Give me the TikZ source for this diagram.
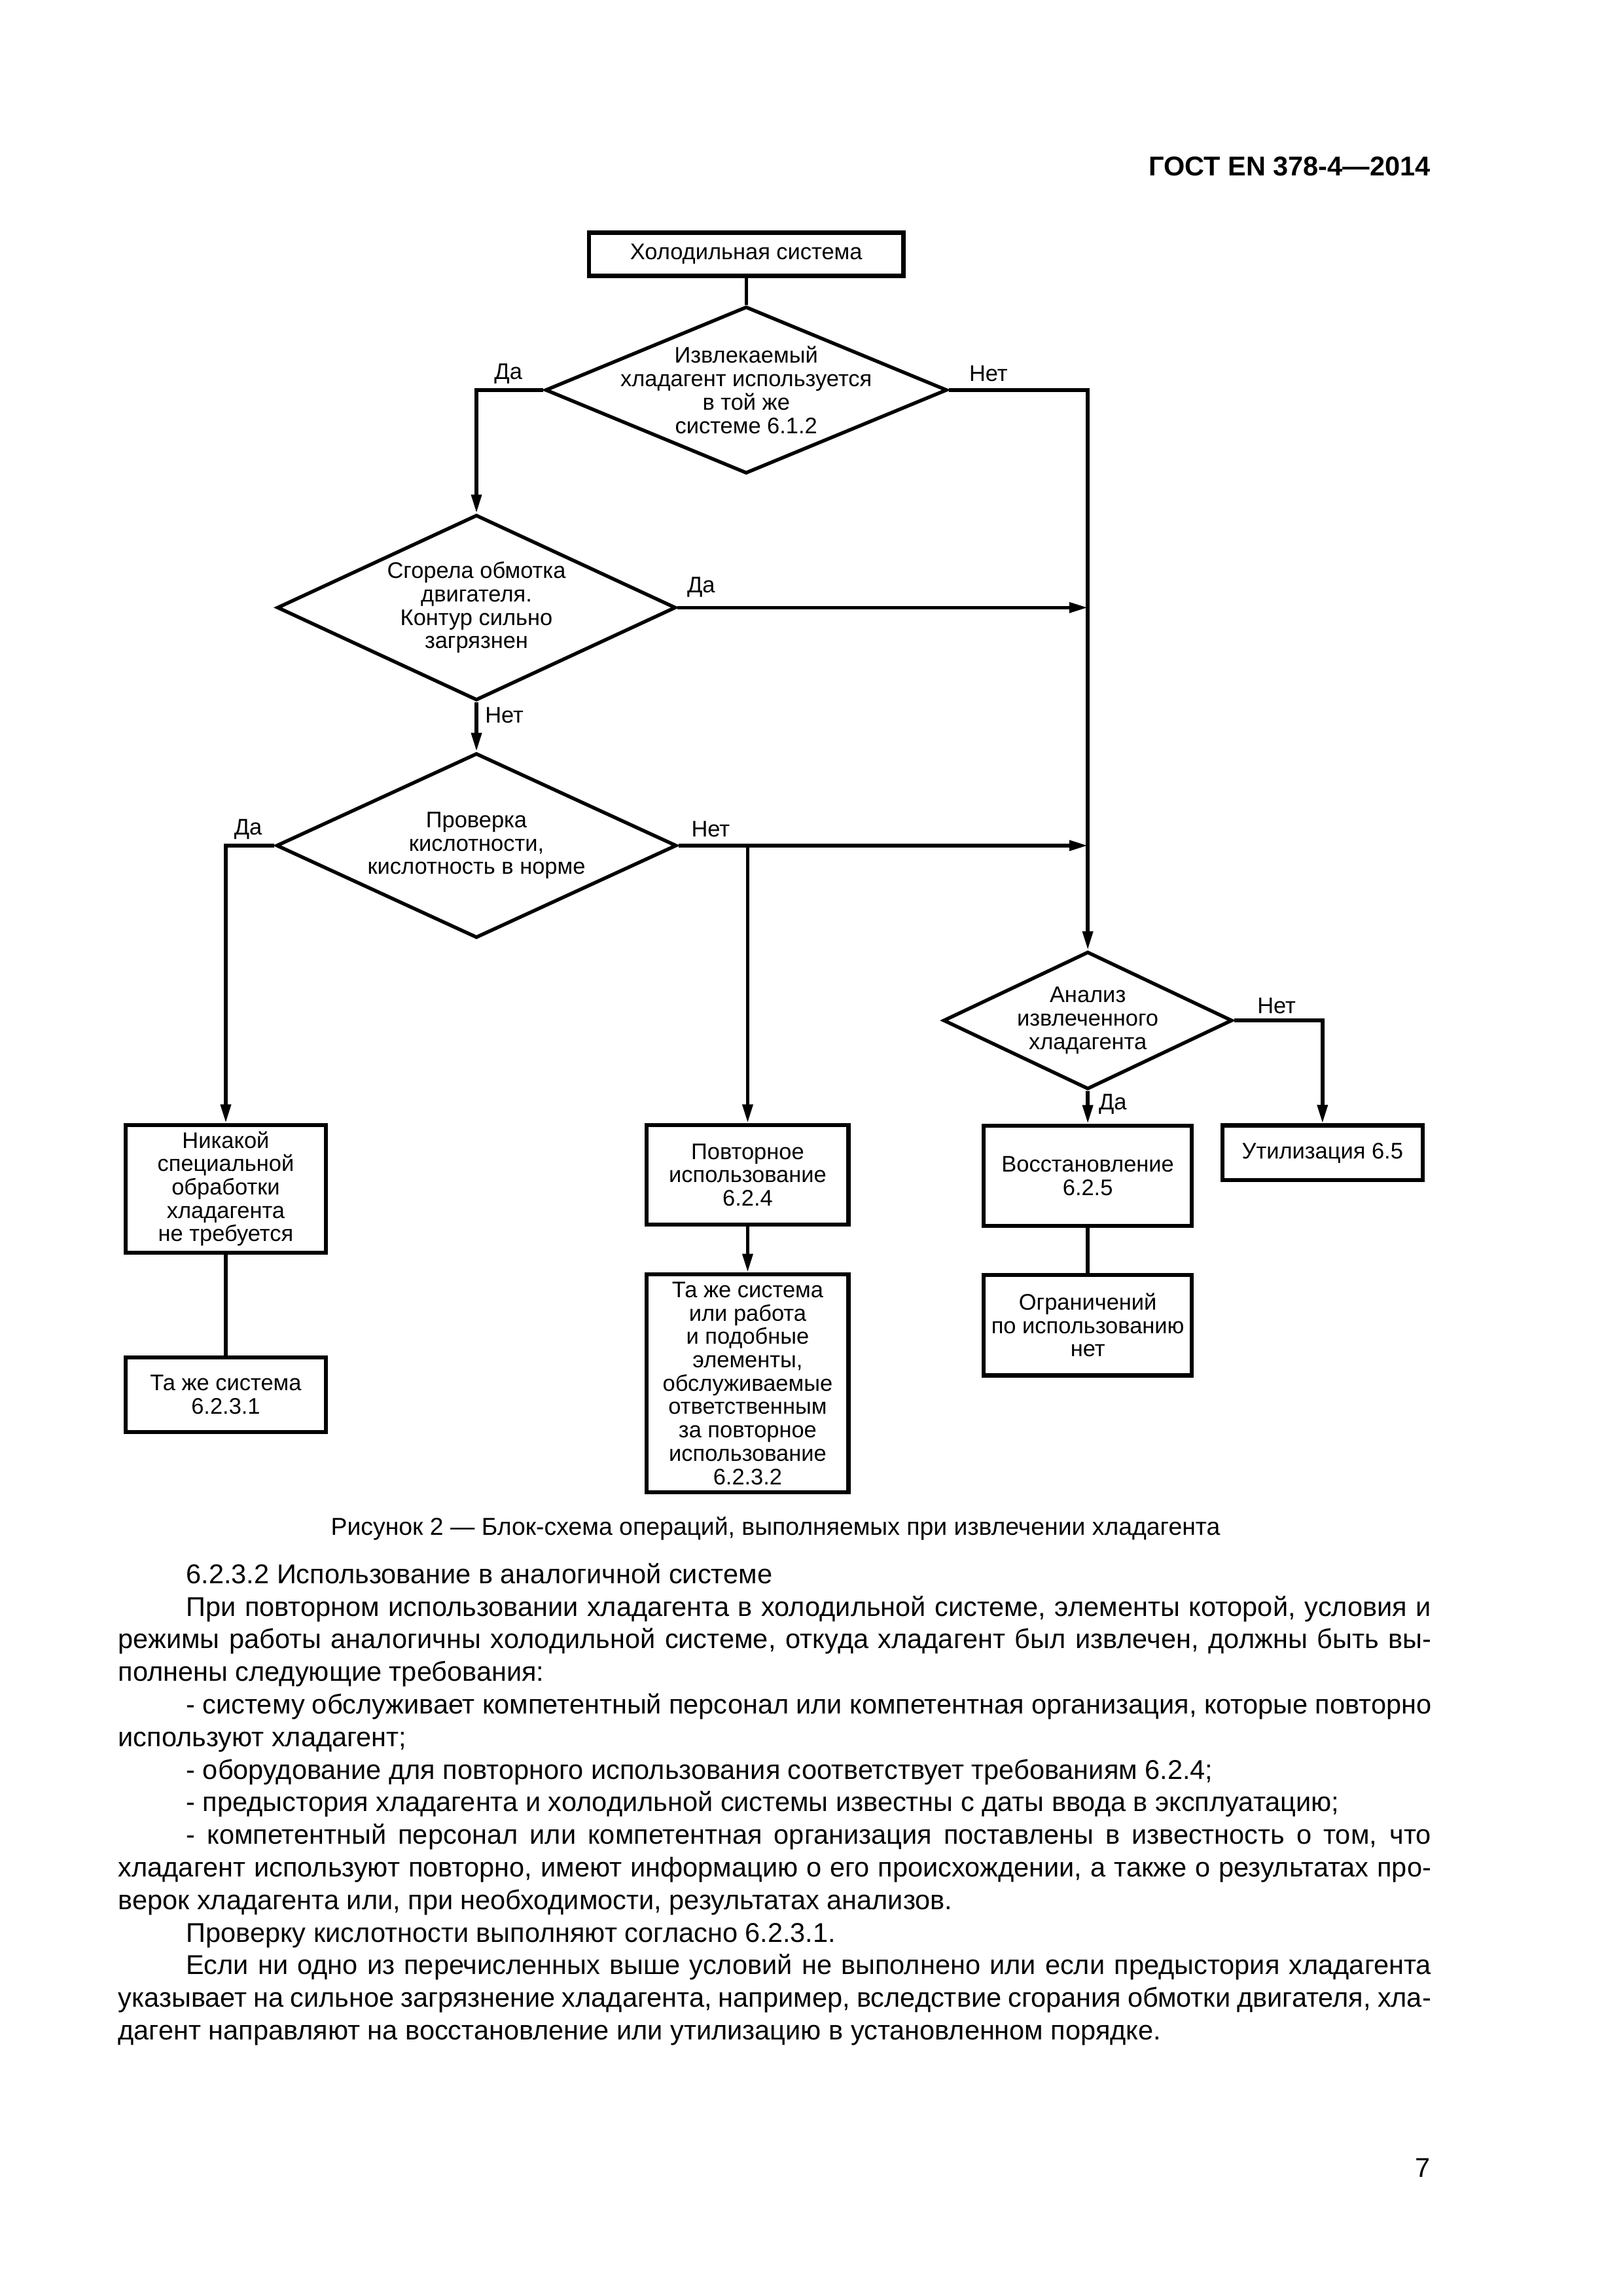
\documentclass[tikz,border=0pt]{standalone}
\usepackage{fontspec}
\setmainfont{Liberation Sans}
\usetikzlibrary{positioning, calc, shapes.geometric, arrows.meta}
\newcommand{\flowfont}{\fontsize{8.3}{8.6}\selectfont}
\newcommand{\bodyfont}{\fontsize{10}{12}\selectfont}
\newcommand{\redline}{\hspace*{8.8mm}}
\tikzset{box/.style={draw, rectangle, line width=1.5pt, align=center, inner sep=0pt, font=\flowfont}}
\tikzset{decision/.style={draw, diamond, line width=1.3pt, inner sep=0pt}}
\tikzset{dtext/.style={align=center, font=\flowfont, inner sep=0pt}}
\tikzset{answer/.style={font=\flowfont, inner sep=0pt}}
\tikzset{flowline/.style={line width=1.3pt}}
\tikzset{flowarrow/.style={flowline, -{Triangle[length=2.4mm, width=1.3mm]}}}

\begin{document}
\begin{tikzpicture}[x=0.1897mm, y=-0.1897mm]
      \useasboundingbox (0,0) rectangle (1107,1566);

      \node[anchor=base east, font=\bfseries\bodyfont, inner sep=0pt] (hdr) at (976,120) {ГОСТ EN 378-4—2014};

      \node[box, minimum width=40.7mm, minimum height=5.6mm] (sys) at (509,173.4) {Холодильная система};
      \node[decision, minimum width=52mm, minimum height=21.6mm,
        label={[dtext]center:{Извлекаемый\\хладагент используется\\в той же\\системе 6.1.2}}] (same) at (509,266) {};
      \node[decision, minimum width=51.6mm, minimum height=24mm,
        label={[dtext]center:{Сгорела обмотка\\двигателя.\\Контур сильно\\загрязнен}}] (burn) at (325,414.4) {};
      \node[decision, minimum width=51.8mm, minimum height=23.9mm,
        label={[dtext]center:{Проверка\\кислотности,\\кислотность в норме}}] (acid) at (325,576.7) {};
      \node[decision, minimum width=37.4mm, minimum height=17.8mm,
        label={[dtext]center:{Анализ\\извлеченного\\хладагента}}] (anal) at (742,696) {};

      \node[box, minimum width=25.9mm, minimum height=16.5mm] (none) at (154,810.8) {Никакой\\специальной\\обработки\\хладагента\\не требуется};
      \node[box, minimum width=25.9mm, minimum height=9.6mm] (samesys) at (154,951.3) {Та же система\\6.2.3.1};
      \node[box, minimum width=26.1mm, minimum height=12.9mm] (reuse) at (510,801.3) {Повторное\\использование\\6.2.4};
      \node[box, minimum width=26.1mm, minimum height=28.2mm] (similar) at (510,943.5) {Та же система\\или работа\\и подобные\\элементы,\\обслуживаемые\\ответственным\\за повторное\\использование\\6.2.3.2};
      \node[box, minimum width=26.9mm, minimum height=13mm] (recl) at (742,802) {Восстановление\\6.2.5};
      \node[box, minimum width=26.9mm, minimum height=13mm] (nolim) at (742,903.8) {Ограничений\\по использованию\\нет};
      \node[box, minimum width=25.9mm, minimum height=7.1mm] (disp) at (902.1,786.3) {Утилизация 6.5};

      \draw[flowline] (sys.south) -- (same.north);
      \draw[flowarrow] (same.west) -| (burn.north);
      \draw[flowarrow] (same.east) -| (anal.north);
      \draw[flowarrow] (burn.east) -- (burn.east -| anal.north);
      \draw[flowarrow] (burn.south) -- (acid.north);
      \draw[flowarrow] (acid.east) -- (acid.east -| anal.north);
      \draw[flowarrow] (acid.east -| reuse.north) -- (reuse.north);
      \draw[flowarrow] (acid.west) -| (none.north);
      \draw[flowline] (none.south) -- (samesys.north);
      \draw[flowarrow] (reuse.south) -- (similar.north);
      \draw[flowarrow] (anal.south) -- (recl.north);
      \draw[flowarrow] (anal.east) -| (disp.north);
      \draw[flowline] (recl.south) -- (nolim.north);

      \node[answer] at ($(same.west)+(-24,-11)$) {Да};
      \node[answer] at ($(same.east)+(27,-11)$) {Нет};
      \node[answer] at ($(burn.east)+(16,-14)$) {Да};
      \node[answer] at ($(burn.south)+(19,9)$) {Нет};
      \node[answer] at ($(acid.west)+(-18,-11)$) {Да};
      \node[answer] at ($(acid.east)+(22,-11)$) {Нет};
      \node[answer] at ($(anal.east)+(29,-10)$) {Нет};
      \node[answer] at ($(anal.south)+(17,9)$) {Да};

      \node[anchor=base, font=\fontsize{9}{11}\selectfont, inner sep=0pt] (cap) at (529,1047) {Рисунок 2 — Блок-схема операций, выполняемых при извлечении хладагента};

      \node[anchor=base west, text width=169.9mm, align=justify, font=\bodyfont, inner sep=0pt] (body) at (80.3,1080) {\tolerance=10000 \hyphenpenalty=10000
        \redline 6.2.3.2 Использование в аналогичной системе\par
        \redline При повторном использовании хладагента в холодильной системе, элементы которой, условия и\linebreak
        режимы работы аналогичны холодильной системе, откуда хладагент был извлечен, должны быть вы-\linebreak
        полнены следующие требования:\par
        \redline - систему обслуживает компетентный персонал или компетентная организация, которые повторно\linebreak
        используют хладагент;\par
        \redline - оборудование для повторного использования соответствует требованиям 6.2.4;\par
        \redline - предыстория хладагента и холодильной системы известны с даты ввода в эксплуатацию;\par
        \redline - компетентный персонал или компетентная организация поставлены в известность о том, что\linebreak
        хладагент используют повторно, имеют информацию о его происхождении, а также о результатах про-\linebreak
        верок хладагента или, при необходимости, результатах анализов.\par
        \redline Проверку кислотности выполняют согласно 6.2.3.1.\par
        \redline Если ни одно из перечисленных выше условий не выполнено или если предыстория хладагента\linebreak
        указывает на сильное загрязнение хладагента, например, вследствие сгорания обмотки двигателя, хла-\linebreak
        дагент направляют на восстановление или утилизацию в установленном порядке.\par};

      \node[anchor=base east, font=\bodyfont, inner sep=0pt] (page) at (976,1485) {7};

    \end{tikzpicture}
\end{document}
